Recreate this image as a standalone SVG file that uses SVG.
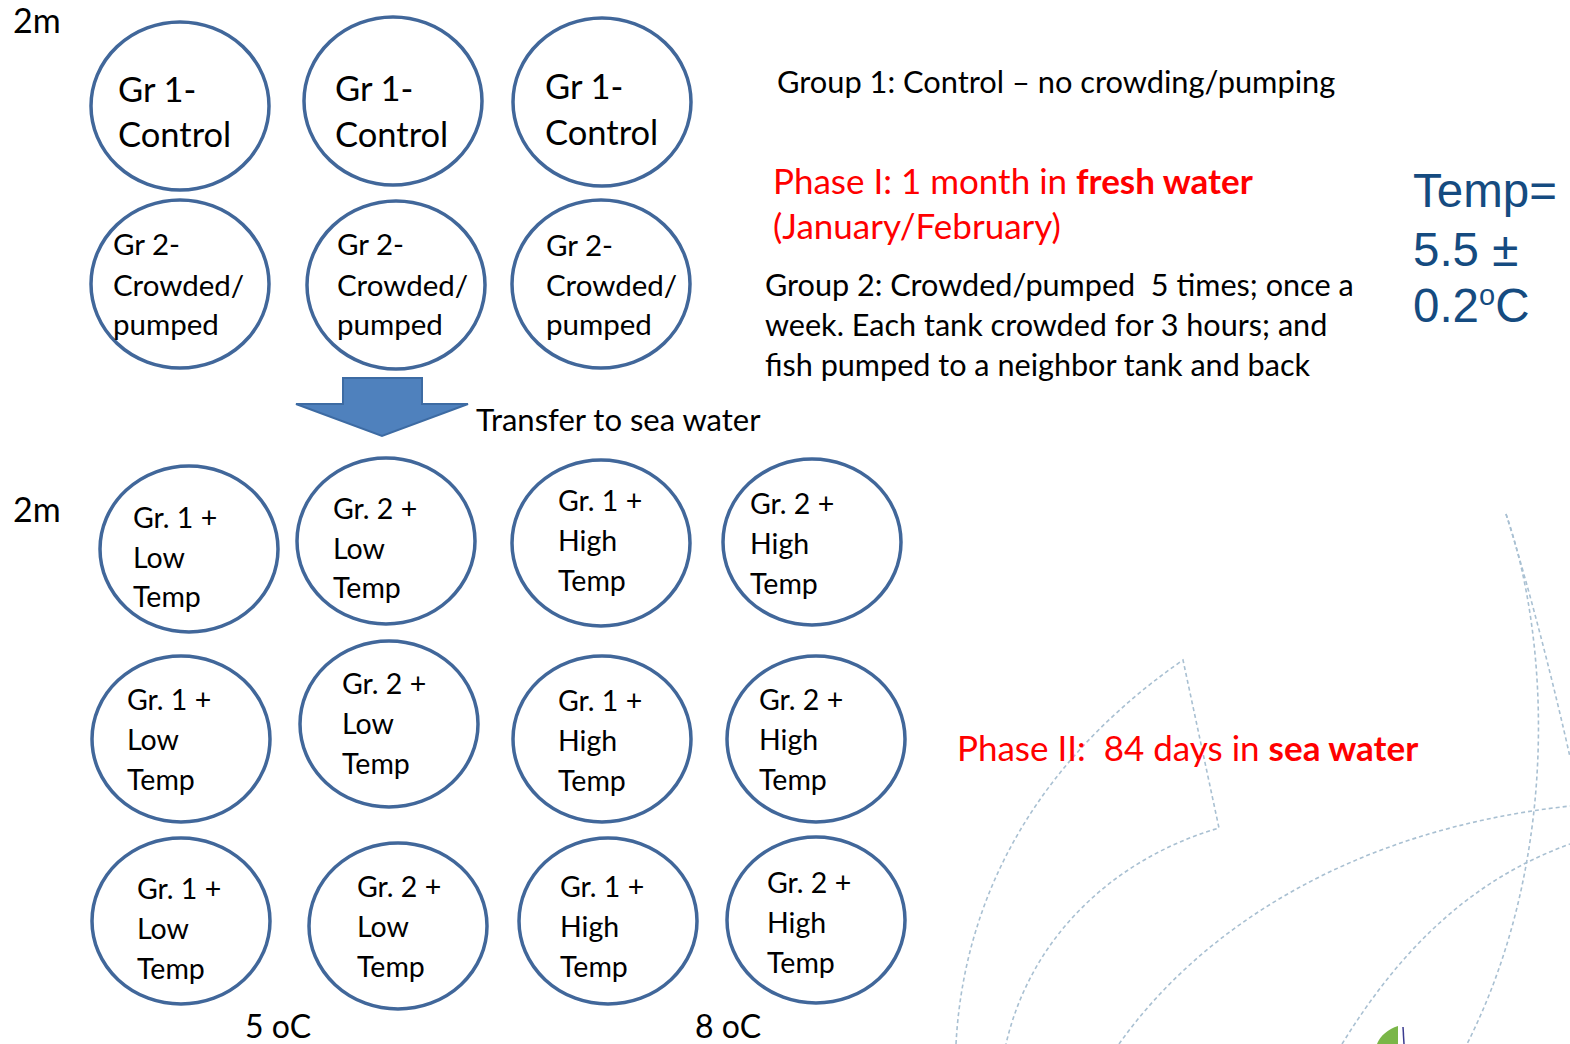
<svg xmlns="http://www.w3.org/2000/svg" width="1570" height="1044" viewBox="0 0 1570 1044">
<style>
.tank{fill:#fff;stroke:#41679A;stroke-width:3.5}
.t{font-family:Lato,"Liberation Sans",sans-serif;fill:#000}
.big{font-size:34.5px}
.mid{font-size:29.5px}
.sm{font-size:28.5px}
.red{fill:#FF0000}
.deco{fill:none;stroke:#A9C0D2;stroke-width:1.6;stroke-dasharray:4 3}
.temp{font-family:"Liberation Sans",Arial,sans-serif;font-size:47.5px;fill:#154B80}
</style>
<rect width="1570" height="1044" fill="#fff"/>
<g id="decoration">
<path class="deco" d="M956,1044 C962,930 1010,780 1183,660 L1219,828 C1110,860 1030,940 1006,1044"/>
<path class="deco" d="M1119,1044 C1200,930 1350,830 1570,806"/>
<path class="deco" d="M1342,1044 C1400,950 1470,880 1570,844"/>
<path class="deco" d="M1506,514 C1530,590 1555,690 1570,757"/>
<path class="deco" d="M1506,514 C1550,640 1560,860 1467,1044"/>
<path d="M1377,1044 C1380,1036 1388,1029 1398,1026 L1398,1044 Z" fill="#7AB648"/>
<path d="M1403,1027 L1404,1044" stroke="#3B3B8F" stroke-width="1.5" fill="none"/>
</g>
<g id="labels">
<text class="t" x="13" y="33" font-size="34">2m</text>
<text class="t" x="13" y="522" font-size="34">2m</text>
<text class="t" x="476" y="431" font-size="31">Transfer to sea water</text>
<text class="t" x="245" y="1038" font-size="32">5 oC</text>
<text class="t" x="695" y="1038" font-size="32">8 oC</text>
<text class="t" x="777" y="93" font-size="30.8">Group 1: Control – no crowding/pumping</text>
<text class="t red" x="773" y="194" font-size="35">Phase I: 1 month in <tspan font-weight="bold">fresh water</tspan></text>
<text class="t red" x="773" y="239" font-size="35">(January/February)</text>
<text class="t" font-size="30.6" xml:space="preserve"><tspan x="765" y="296">Group 2: Crowded/pumped  5 times; once a</tspan><tspan x="765" y="336">week. Each tank crowded for 3 hours; and</tspan><tspan x="765" y="376">fish pumped to a neighbor tank and back</tspan></text>
<text class="t red" x="957" y="761" font-size="35" xml:space="preserve">Phase II:  84 days in <tspan font-weight="bold">sea water</tspan></text>
<text class="temp"><tspan x="1413" y="207">Temp=</tspan><tspan x="1413" y="266">5.5 ±</tspan><tspan x="1413" y="322">0.2<tspan font-size="29" dy="-17">o</tspan><tspan dy="17">C</tspan></tspan></text>
</g>
<g id="arrow">
<path d="M343,378 L422,378 L422,404 L468,404 L382,436 L296,404 L343,404 Z" fill="#4F81BD" stroke="#3D6BA3" stroke-width="2"/>
</g>
<g id="phase1">
<g id="c-1-1"><ellipse class="tank" cx="180" cy="106" rx="89" ry="84"/><text class="t big"><tspan x="118" y="102">Gr 1-</tspan><tspan x="118" y="147">Control</tspan></text></g>
<g id="c-1-2"><ellipse class="tank" cx="393" cy="101" rx="89" ry="84"/><text class="t big"><tspan x="335" y="101">Gr 1-</tspan><tspan x="335" y="147">Control</tspan></text></g>
<g id="c-1-3"><ellipse class="tank" cx="602" cy="102" rx="89" ry="84"/><text class="t big"><tspan x="545" y="99">Gr 1-</tspan><tspan x="545" y="145">Control</tspan></text></g>
<g id="c-2-1"><ellipse class="tank" cx="180" cy="284" rx="89" ry="84"/><text class="t mid"><tspan x="113" y="255">Gr 2-</tspan><tspan x="113" y="296">Crowded/</tspan><tspan x="113" y="335">pumped</tspan></text></g>
<g id="c-2-2"><ellipse class="tank" cx="396" cy="285" rx="89" ry="84"/><text class="t mid"><tspan x="337" y="255">Gr 2-</tspan><tspan x="337" y="296">Crowded/</tspan><tspan x="337" y="335">pumped</tspan></text></g>
<g id="c-2-3"><ellipse class="tank" cx="601" cy="284" rx="89" ry="84"/><text class="t mid"><tspan x="546" y="256">Gr 2-</tspan><tspan x="546" y="296">Crowded/</tspan><tspan x="546" y="335">pumped</tspan></text></g>
</g>
<g id="phase2">
<g id="s-1-1"><ellipse class="tank" cx="189" cy="549" rx="89" ry="83"/><text class="t sm"><tspan x="133" y="528">Gr. 1 +</tspan><tspan x="133" y="568">Low</tspan><tspan x="133" y="607">Temp</tspan></text></g>
<g id="s-1-2"><ellipse class="tank" cx="386" cy="541" rx="89" ry="83"/><text class="t sm"><tspan x="333" y="519">Gr. 2 +</tspan><tspan x="333" y="559">Low</tspan><tspan x="333" y="598">Temp</tspan></text></g>
<g id="s-1-3"><ellipse class="tank" cx="601" cy="543" rx="89" ry="83"/><text class="t sm"><tspan x="558" y="511">Gr. 1 +</tspan><tspan x="558" y="551">High</tspan><tspan x="558" y="591">Temp</tspan></text></g>
<g id="s-1-4"><ellipse class="tank" cx="812" cy="542" rx="89" ry="83"/><text class="t sm"><tspan x="750" y="514">Gr. 2 +</tspan><tspan x="750" y="554">High</tspan><tspan x="750" y="594">Temp</tspan></text></g>
<g id="s-2-1"><ellipse class="tank" cx="181" cy="739" rx="89" ry="83"/><text class="t sm"><tspan x="127" y="710">Gr. 1 +</tspan><tspan x="127" y="750">Low</tspan><tspan x="127" y="790">Temp</tspan></text></g>
<g id="s-2-2"><ellipse class="tank" cx="389" cy="724" rx="89" ry="83"/><text class="t sm"><tspan x="342" y="694">Gr. 2 +</tspan><tspan x="342" y="734">Low</tspan><tspan x="342" y="774">Temp</tspan></text></g>
<g id="s-2-3"><ellipse class="tank" cx="602" cy="739" rx="89" ry="83"/><text class="t sm"><tspan x="558" y="711">Gr. 1 +</tspan><tspan x="558" y="751">High</tspan><tspan x="558" y="791">Temp</tspan></text></g>
<g id="s-2-4"><ellipse class="tank" cx="816" cy="739" rx="89" ry="83"/><text class="t sm"><tspan x="759" y="710">Gr. 2 +</tspan><tspan x="759" y="750">High</tspan><tspan x="759" y="790">Temp</tspan></text></g>
<g id="s-3-1"><ellipse class="tank" cx="181" cy="921" rx="89" ry="83"/><text class="t sm"><tspan x="137" y="899">Gr. 1 +</tspan><tspan x="137" y="939">Low</tspan><tspan x="137" y="979">Temp</tspan></text></g>
<g id="s-3-2"><ellipse class="tank" cx="398" cy="926" rx="89" ry="83"/><text class="t sm"><tspan x="357" y="897">Gr. 2 +</tspan><tspan x="357" y="937">Low</tspan><tspan x="357" y="977">Temp</tspan></text></g>
<g id="s-3-3"><ellipse class="tank" cx="608" cy="921" rx="89" ry="83"/><text class="t sm"><tspan x="560" y="897">Gr. 1 +</tspan><tspan x="560" y="937">High</tspan><tspan x="560" y="977">Temp</tspan></text></g>
<g id="s-3-4"><ellipse class="tank" cx="816" cy="920" rx="89" ry="83"/><text class="t sm"><tspan x="767" y="893">Gr. 2 +</tspan><tspan x="767" y="933">High</tspan><tspan x="767" y="973">Temp</tspan></text></g>
</g>
</svg>
